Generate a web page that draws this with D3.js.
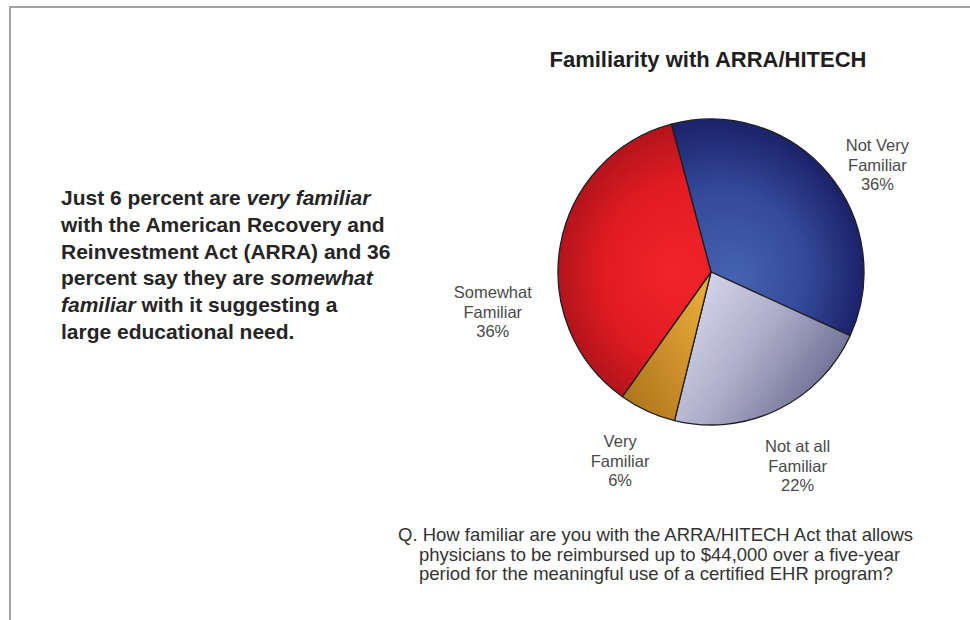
<!DOCTYPE html>
<html>
<head>
<meta charset="utf-8">
<script src="https://cdn.jsdelivr.net/npm/d3@7"></script>
<style>
  html, body { margin: 0; padding: 0; background: #ffffff; }
  svg { display: block; font-family: "Liberation Sans", Arial, Helvetica, sans-serif; }
</style>
</head>
<body>
<svg id="chart" width="970" height="620"></svg>
<script>
// Survey answers: familiarity with ARRA/HITECH (percent of respondents)
const categories = ["Not Very Familiar", "Not at all Familiar", "Very Familiar", "Somewhat Familiar"];
const labelLines = [["Not Very", "Familiar"], ["Not at all", "Familiar"], ["Very", "Familiar"], ["Somewhat", "Familiar"]];
const values = [36, 22, 6, 36];

const title = "Familiarity with ARRA/HITECH";
const question = [
  "Q. How familiar are you with the ARRA/HITECH Act that allows",
  "physicians to be reimbursed up to $44,000 over a five-year",
  "period for the meaningful use of a certified EHR program?"
];
// Summary paragraph; each line is a list of [text, italic] runs
const summary = [
  [["Just 6 percent are ", false], ["very familiar", true]],
  [["with the American Recovery and", false]],
  [["Reinvestment Act (ARRA) and 36", false]],
  [["percent say they are ", false], ["somewhat", true]],
  [["familiar", true], [" with it suggesting a", false]],
  [["large educational need.", false]]
];

const svg = d3.select("#chart");
const W = 970, H = 620;

// page frame: top and left rules
svg.append("line").attr("x1", 9).attr("x2", W).attr("y1", 7).attr("y2", 7)
  .attr("stroke", "#a3a3a3").attr("stroke-width", 2);
svg.append("line").attr("x1", 10).attr("x2", 10).attr("y1", 6).attr("y2", H)
  .attr("stroke", "#a3a3a3").attr("stroke-width", 2);

// ---- pie ----
const cx = 711, cy = 272, R = 153;
const g = svg.append("g").attr("transform", `translate(${cx},${cy})`);

const pie = d3.pie().sort(null).value(d => d)
  .startAngle(-15 * Math.PI / 180)
  .endAngle(345 * Math.PI / 180);
const arcs = pie(values);
const arc = d3.arc().innerRadius(0).outerRadius(R);

// shaded fills for each wedge
const defs = svg.append("defs");
const shades = [
  { type: "radial", stops: [[0, "#4563b0"], [0.55, "#34499a"], [1, "#1b2268"]] },
  { type: "linear", stops: [[0, "#d6d6ec"], [0.5, "#aeaeca"], [1, "#6f7094"]], x1: 0.1, y1: 0.1, x2: 0.95, y2: 0.6 },
  { type: "linear", stops: [[0, "#e8ab3a"], [1, "#b0761c"]], x1: 0.9, y1: 0.1, x2: 0.1, y2: 0.9 },
  { type: "radial", stops: [[0, "#f0242a"], [0.6, "#e11b22"], [1, "#b3141b"]] }
];
shades.forEach((s, i) => {
  let grad;
  if (s.type === "radial") {
    grad = defs.append("radialGradient").attr("id", "shade" + i);
  } else {
    grad = defs.append("linearGradient").attr("id", "shade" + i)
      .attr("x1", s.x1).attr("y1", s.y1).attr("x2", s.x2).attr("y2", s.y2);
  }
  s.stops.forEach(([o, c]) => grad.append("stop").attr("offset", o).attr("stop-color", c));
});

// radial shading is anchored on the pie centre
defs.select("#shade0").attr("gradientUnits", "userSpaceOnUse")
  .attr("cx", 0).attr("cy", 0).attr("r", R).attr("fx", 25).attr("fy", 5);
defs.select("#shade3").attr("gradientUnits", "userSpaceOnUse")
  .attr("cx", 0).attr("cy", 0).attr("r", R).attr("fx", -40).attr("fy", 0);

g.selectAll("path.slice").data(arcs).join("path")
  .attr("class", "slice")
  .attr("d", arc)
  .attr("fill", (d, i) => `url(#shade${i})`)
  .attr("stroke", "#1f1f24")
  .attr("stroke-width", 1.3)
  .attr("stroke-linejoin", "round");

// ---- slice labels, placed outside the rim ----
const labelArc = d3.arc().innerRadius(R * 1.27).outerRadius(R * 1.27);
const labelNudge = [[18, 19], [2, 20], [-10, 13], [-27, 75]];
const lineH = 19.5;
arcs.forEach((a, i) => {
  const [lx, ly] = labelArc.centroid(a);
  const lines = labelLines[i].concat([values[i] + "%"]);
  const t = g.append("text")
    .attr("text-anchor", "middle")
    .attr("font-size", 16.5)
    .attr("fill", "#4a4a4a");
  lines.forEach((s, k) => {
    t.append("tspan")
      .attr("x", lx + labelNudge[i][0])
      .attr("y", ly + labelNudge[i][1] + (k - 1) * lineH + 5)
      .text(s);
  });
});

// ---- title ----
svg.append("text")
  .attr("x", 708).attr("y", 67)
  .attr("text-anchor", "middle")
  .attr("font-size", 22)
  .attr("font-weight", "bold")
  .attr("fill", "#1e1e1e")
  .text(title);

// ---- summary paragraph ----
const sumText = svg.append("text")
  .attr("font-size", 21)
  .attr("font-weight", "bold")
  .attr("fill", "#252525");
summary.forEach((runs, i) => {
  runs.forEach((r, k) => {
    const ts = sumText.append("tspan").text(r[0]);
    if (k === 0) ts.attr("x", 61).attr("y", 205 + i * 26.8);
    if (r[1]) ts.attr("font-style", "italic");
  });
});

// ---- survey question ----
const q = svg.append("text")
  .attr("font-size", 18.5)
  .attr("fill", "#333333");
question.forEach((s, i) => {
  q.append("tspan")
    .attr("x", i === 0 ? 398 : 419)
    .attr("y", 541 + i * 19.5)
    .text(s);
});
</script>
</body>
</html>
